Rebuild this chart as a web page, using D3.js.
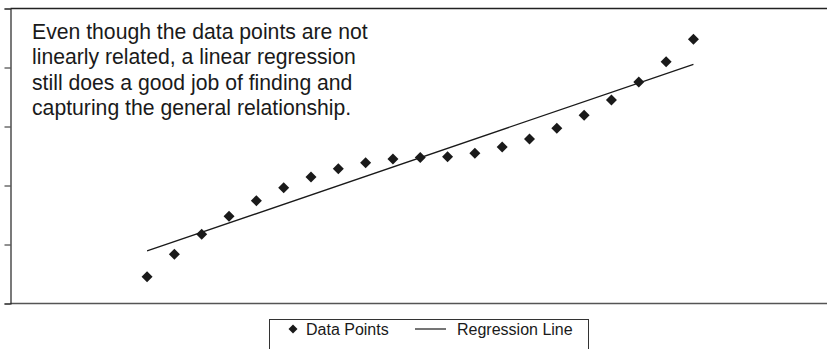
<!DOCTYPE html>
<html>
<head>
<meta charset="utf-8">
<script src="https://cdn.jsdelivr.net/npm/d3@7"></script>
<style>
  html, body { margin: 0; padding: 0; background: #fff; }
  svg { display: block; }
</style>
</head>
<body>
<svg id="chart" width="827" height="349"></svg>
<script>
// ---- data ----
const pointX = [1,2,3,4,5,6,7,8,9,10,11,12,13,14,15,16,17,18,19,20,21];
const pointY = [0.454,0.834,1.173,1.478,1.742,1.963,2.144,2.285,2.386,2.449,2.475,
                2.488,2.546,2.653,2.788,2.969,3.190,3.449,3.754,4.098,4.478];
const regX = [1, 21];
const regY = [0.890, 4.054];
const yTicks = [0,1,2,3,4,5];
const noteLines = [
  "Even though the data points are not",
  "linearly related, a linear regression",
  "still does a good job of finding and",
  "capturing the general relationship."
];
const legendLabels = ["Data Points", "Regression Line"];

// ---- layout ----
const svg = d3.select("#chart");
const pLeft = 10.5, pTop = 8.5, pBottom = 303.5, pRight = 830;
const x = d3.scaleLinear().domain([-4, 26]).range([pLeft, pRight]);
const y = d3.scaleLinear().domain([0, 5]).range([pBottom, pTop]);
const font = "'Liberation Sans', Arial, Helvetica, sans-serif";

// frame lines
svg.append("line").attr("x1", pLeft).attr("x2", 827).attr("y1", pTop).attr("y2", pTop)
  .attr("stroke", "#222").attr("stroke-width", 1.6);
svg.append("line").attr("x1", pLeft).attr("x2", 827).attr("y1", pBottom).attr("y2", pBottom)
  .attr("stroke", "#555").attr("stroke-width", 1.4);

// y axis (ticks, no labels)
const yAxis = d3.axisLeft(y).tickValues(yTicks).tickSize(6).tickFormat("");
const gy = svg.append("g").attr("transform", `translate(${pLeft},0)`).call(yAxis);
gy.select(".domain").attr("stroke", "#222").attr("stroke-width", 1.2);
gy.selectAll(".tick line").attr("stroke", "#222").attr("stroke-width", 1);

// regression line
const line = d3.line().x(d => x(d[0])).y(d => y(d[1]));
svg.append("path")
  .datum(regX.map((v, i) => [v, regY[i]]))
  .attr("d", line)
  .attr("fill", "none").attr("stroke", "#1a1a1a").attr("stroke-width", 1.3);

// diamonds
const diamond = "M0,-5.5L5.5,0L0,5.5L-5.5,0Z";
svg.append("g").selectAll("path")
  .data(pointX.map((v, i) => [v, pointY[i]]))
  .join("path")
  .attr("d", diamond)
  .attr("transform", d => `translate(${x(d[0])},${y(d[1])})`)
  .attr("fill", "#1a1a1a");

// annotation text
const note = svg.append("text")
  .attr("x", 32).attr("y", 38.5)
  .attr("font-family", font).attr("font-size", 21.2).attr("fill", "#1a1a1a");
note.selectAll("tspan").data(noteLines).join("tspan")
  .attr("x", 32).attr("dy", (d, i) => i === 0 ? 0 : 25.5)
  .text(d => d);

// legend
const lg = svg.append("g");
lg.append("rect").attr("x", 269.5).attr("y", 319.5).attr("width", 319).attr("height", 40)
  .attr("fill", "#fff").attr("stroke", "#333").attr("stroke-width", 1);
lg.append("path").attr("d", "M0,-4.5L4.5,0L0,4.5L-4.5,0Z")
  .attr("transform", "translate(293,329)").attr("fill", "#1a1a1a");
lg.append("text").attr("x", 306).attr("y", 334.5)
  .attr("font-family", font).attr("font-size", 16).attr("fill", "#1a1a1a")
  .text(legendLabels[0]);
lg.append("line").attr("x1", 415).attr("x2", 446).attr("y1", 329).attr("y2", 329)
  .attr("stroke", "#1a1a1a").attr("stroke-width", 1.2);
lg.append("text").attr("x", 457).attr("y", 334.5)
  .attr("font-family", font).attr("font-size", 16).attr("fill", "#1a1a1a")
  .text(legendLabels[1]);
</script>
</body>
</html>
